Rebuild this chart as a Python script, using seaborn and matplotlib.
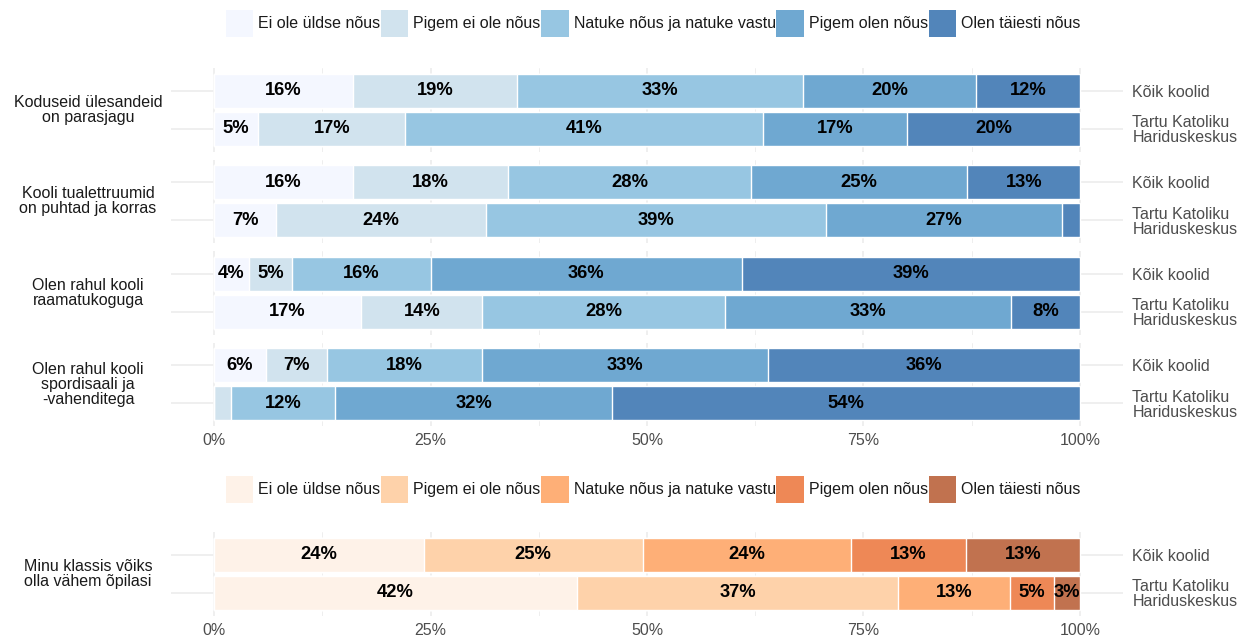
import numpy as np
import pandas as pd
import matplotlib
matplotlib.use("Agg")
import matplotlib.pyplot as plt
import seaborn as sns
from matplotlib.patches import Patch
from matplotlib.ticker import MultipleLocator, FuncFormatter
from matplotlib.colors import to_rgb

# ---------------- data ----------------
levels = ["Ei ole üldse nõus", "Pigem ei ole nõus", "Natuke nõus ja natuke vastu",
          "Pigem olen nõus", "Olen täiesti nõus"]
groups = ["Kõik koolid", "Tartu Katoliku\nHariduskeskus"]

questions_top = ["Koduseid ülesandeid\non parasjagu",
                 "Kooli tualettruumid\non puhtad ja korras",
                 "Olen rahul kooli\nraamatukoguga",
                 "Olen rahul kooli\nspordisaali ja\n-vahenditega"]
question_bottom = "Minu klassis võiks\nolla vähem õpilasi"

q1_all = [16, 19, 33, 20, 12]
q1_tartu = [5.1, 17.0, 41.3, 16.6, 20.0]
q2_all = [16, 18, 28, 25, 13]
q2_tartu = [7.2, 24.2, 39.3, 27.2, 2.1]
q3_all = [4, 5, 16, 36, 39]
q3_tartu = [17, 14, 28, 33, 8]
q4_all = [6, 7, 18, 33, 36]
q4_tartu = [0, 2, 12, 32, 54]
q5_all = [24.2, 25.3, 24.1, 13.2, 13.2]
q5_tartu = [41.9, 37.1, 12.9, 5.1, 3.0]

blues = ["#eff3ff", "#bdd7e7", "#6baed6", "#3182bd", "#08519c"]
oranges = ["#feedde", "#fdbe85", "#fd8d3c", "#e6550d", "#a63603"]
ALPHA = 0.7


def blend(c):
    r = np.array(to_rgb(c))
    return tuple(ALPHA * r + (1 - ALPHA))


blues_b = [blend(c) for c in blues]
oranges_b = [blend(c) for c in oranges]

# ---------------- style ----------------
sns.set_theme(style="white")
plt.rcParams['font.family'] = ['Liberation Sans', 'DejaVu Sans']

W, H = 1240, 636
fig = plt.figure(figsize=(W / 100, H / 100), dpi=100)

AX_L = 170.7
AX_W = 952.6
PH = 83.6


def add_ax(top_px):
    return fig.add_axes([AX_L / W, 1 - (top_px + PH) / H, AX_W / W, PH / H])


FS = 11.5


def draw_panel(ax, rows, colors, question, show_x):
    vals = np.array(rows, dtype=float)
    cum = np.cumsum(vals, axis=1)
    for k in range(4, -1, -1):
        df = pd.DataFrame({"group": groups, "end": cum[:, k]})
        sns.barplot(data=df, x="end", y="group", orient="h", color=colors[k],
                    saturation=1, width=0.9, errorbar=None, ax=ax, zorder=2)
    for i in range(vals.shape[0]):
        for k in range(vals.shape[1]):
            v = vals[i, k]
            if v >= 2.5:
                ax.text(cum[i, k] - v / 2, i, f"{round(v):.0f}%", ha="center", va="center",
                        fontsize=13.2, fontweight="bold", color="black", zorder=5)
    ax.set_xlim(-5, 105)
    ax.set_ylim(1.6, -0.6)
    ax.xaxis.set_major_locator(MultipleLocator(25))
    ax.xaxis.set_minor_locator(MultipleLocator(12.5))
    ax.xaxis.set_major_formatter(FuncFormatter(lambda x, p: f"{x:.0f}%"))
    ax.set_axisbelow(True)
    ax.grid(True, which="major", axis="both", color="#ebebeb", lw=1.1)
    ax.grid(True, which="minor", axis="x", color="#ebebeb", lw=0.6)
    ax.yaxis.tick_right()
    ax.tick_params(axis="y", length=0, pad=6.5, labelsize=FS, labelcolor="#4d4d4d")
    ax.tick_params(axis="x", which="both", length=0, pad=5, labelsize=FS, labelcolor="#4d4d4d")
    if not show_x:
        ax.tick_params(axis="x", labelbottom=False)
    for sp in ax.spines.values():
        sp.set_visible(False)
    ax.set_xlabel("")
    ax.set_ylabel("")
    for lbl in ax.get_yticklabels():
        lbl.set_ha("left")
        lbl.set_linespacing(0.98)
    ax.text((88 - AX_L) / AX_W, 0.5, question, transform=ax.transAxes, ha="center",
            va="center", fontsize=FS, color="#1a1a1a", linespacing=1.0)


top_rows = [[q1_all, q1_tartu], [q2_all, q2_tartu], [q3_all, q3_tartu], [q4_all, q4_tartu]]
tops = [68, 159.5, 251, 342.5]
for j, (rows, q) in enumerate(zip(top_rows, questions_top)):
    ax = add_ax(tops[j])
    draw_panel(ax, rows, blues_b, q, show_x=(j == 3))

axb = add_ax(532)
draw_panel(axb, [q5_all, q5_tartu], oranges_b, question_bottom, show_x=True)


def add_legend(colors, ycenter):
    handles = [Patch(facecolor=c, edgecolor="none") for c in colors]
    fig.legend(handles, levels, loc="center", bbox_to_anchor=(653 / W, 1 - ycenter / H),
               ncol=5, frameon=False, handlelength=1.72, handleheight=2.27,
               handletextpad=0.3, columnspacing=0.05, fontsize=FS, borderpad=0,
               labelcolor="#1a1a1a")


add_legend(blues_b, 23.5)
add_legend(oranges_b, 489.5)

fig.savefig("out.png", dpi=100)
